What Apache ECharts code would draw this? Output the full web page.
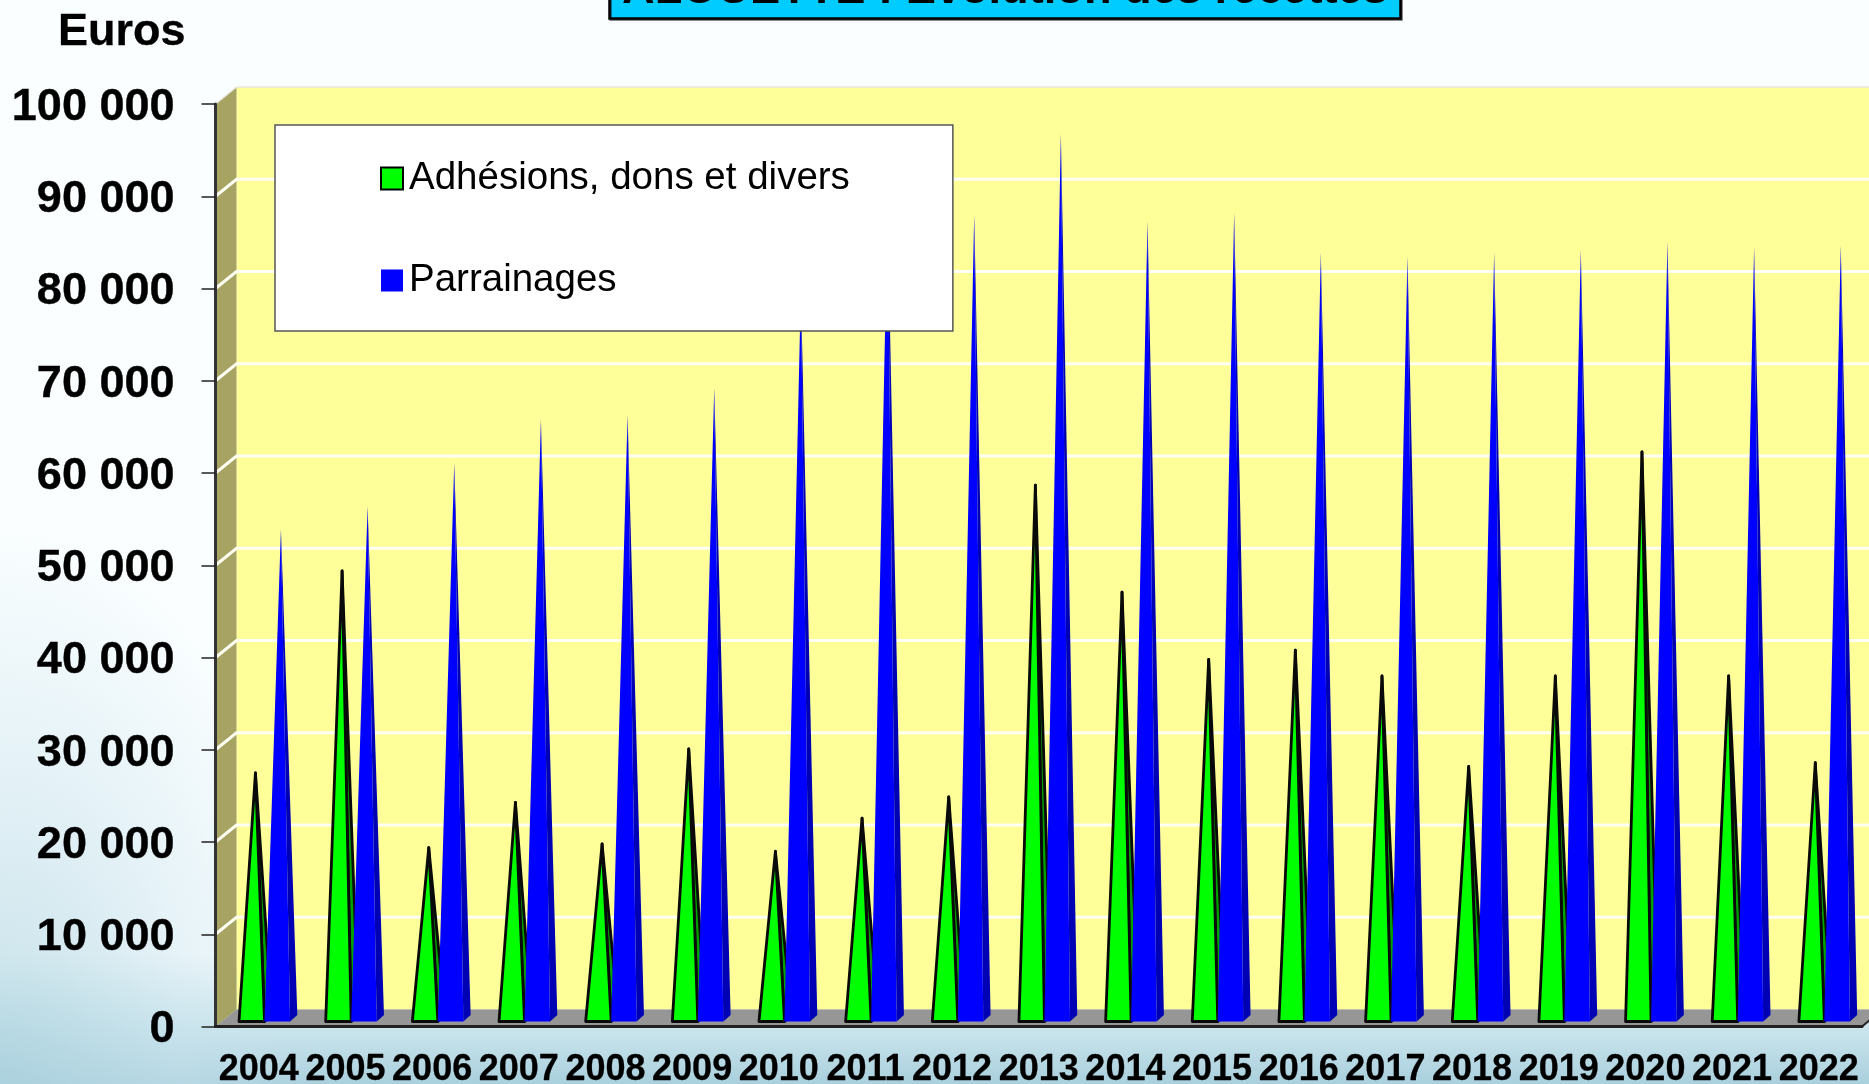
<!DOCTYPE html>
<html lang="fr">
<head>
    <meta charset="UTF-8">
    <title>ALOUETTE : Evolution des recettes</title>
    <style>
        html, body { margin: 0; height: 100%; overflow: hidden; }
        body {
            background:
                radial-gradient(ellipse 330px 560px at 0 100%, rgba(172, 210, 222, 0.7) 0, rgba(200, 226, 236, 0.45) 55%, rgba(250, 254, 255, 0) 100%),
                linear-gradient(to top, #a9d0dd 0, rgba(190, 222, 232, 0.75) 60px, rgba(250, 254, 255, 0) 130px),
                #fafeff;
        }
        #chart { width: 1869px; height: 1084px; }
    </style>
</head>
<body>
<div id="chart"></div>

<script src="https://cdn.jsdelivr.net/npm/echarts@6/dist/echarts.min.js"></script>
<script>
    const years = ['2004', '2005', '2006', '2007', '2008', '2009', '2010', '2011', '2012', '2013',
        '2014', '2015', '2016', '2017', '2018', '2019', '2020', '2021', '2022'];
    const adhesions = [26600, 48500, 18500, 23400, 18900, 29200, 18100, 21700, 24000, 57800,
        46200, 38900, 39900, 37100, 27300, 37100, 61400, 37100, 27700];
    const parrainages = [53000, 55500, 60200, 64900, 65400, 68300, 79000, 88000, 87100, 95900,
        86400, 87300, 83000, 82600, 83000, 83300, 84200, 83600, 83800];
    const yTicks = [0, 10000, 20000, 30000, 40000, 50000, 60000, 70000, 80000, 90000, 100000];

    // depth of the fake 3D box, and of each pyramid
    const wallDx = 21, wallDy = -17;
    const barRatio = 25.5 / 86.66;
    const barDx = 7.3, barDy = -6.5, barShiftX = 5.7, barShiftY = -5;

    function poly(points, style) {
        return { type: 'polygon', shape: { points: points }, style: style };
    }

    function renderWall(params, api) {
        const v = api.value(0);
        const c = api.coord([0, v]);
        const band = api.size([1, 0])[0];
        const left = c[0] - band / 2;
        const right = params.coordSys.x + params.coordSys.width;
        const children = [];
        if (v === 0) {
            const top = api.coord([0, 100000])[1];
            children.push(poly([[left + wallDx, top + wallDy], [right + wallDx + 40, top + wallDy],
                [right + wallDx + 40, c[1] + wallDy], [left + wallDx, c[1] + wallDy]], { fill: '#ffff99' }));
            children.push(poly([[left, top], [left + wallDx, top + wallDy],
                [left + wallDx, c[1] + wallDy], [left, c[1]]], { fill: '#a6a363' }));
            children.push(poly([[left, c[1]], [right, c[1]], [right + wallDx, c[1] + wallDy],
                [left + wallDx, c[1] + wallDy]], { fill: '#969696' }));
            children.push({ type: 'line', shape: { x1: right, y1: c[1], x2: right + wallDx, y2: c[1] + wallDy },
                style: { stroke: '#222', lineWidth: 2 } });
        } else {
            children.push({ type: 'polyline', shape: { points: [[left, c[1]], [left + wallDx, c[1] + wallDy],
                [right + wallDx + 40, c[1] + wallDy]] }, style: { stroke: v === 100000 ? '#e8e8e0' : '#fffff4', lineWidth: v === 100000 ? 1.5 : 3, fill: null } });
        }
        return { type: 'group', children: children };
    }

    function pyramid(side, front, outline) {
        return function (params, api) {
            const top = api.coord([api.value(0), api.value(1)]);
            const base = api.coord([api.value(0), 0]);
            const w = api.size([1, 0])[0] * barRatio;
            const x0 = base[0] + barShiftX + (side === 'left' ? -w : 0);
            const y0 = base[1] + barShiftY;
            const apex = [x0 + w / 2 + barDx / 2, top[1] + barShiftY + barDy / 2];
            const a = [x0, y0], b = [x0 + w, y0], c = [x0 + w + barDx, y0 + barDy];
            const st = outline ? { stroke: outline, lineWidth: 2.8, lineJoin: 'round' } : {};
            return {
                type: 'group',
                children: [
                    poly([b, c, apex], Object.assign({ fill: front[1] }, st)),
                    poly([a, b, apex], Object.assign({ fill: front[0] }, st))
                ]
            };
        };
    }

    const chart = echarts.init(document.getElementById('chart'));
    const fontFamily = '"Liberation Sans", Arial, sans-serif';

    chart.setOption({
        animation: false,
        backgroundColor: 'transparent',
        textStyle: { fontFamily: fontFamily },
        title: {
            text: 'ALOUETTE : Evolution des recettes',
            left: 609,
            top: -41,
            padding: [9, 13, 6, 13],
            backgroundColor: '#00ccff',
            borderColor: '#000',
            borderWidth: 2.5,
            shadowColor: 'rgba(0,0,0,0.6)',
            shadowOffsetY: 1,
            shadowOffsetX: 1,
            textStyle: { fontFamily: fontFamily, fontSize: 45.2, fontWeight: 'bold', color: '#000' }
        },
        grid: { left: 215.5, right: 7, top: 104, bottom: 57.5, outerBoundsMode: 'none' },
        legend: {
            left: 275,
            top: 125,
            orient: 'vertical',
            selectedMode: false,
            backgroundColor: '#fff',
            borderColor: '#555',
            borderWidth: 1.5,
            padding: [34, 103, 31, 105],
            itemWidth: 22,
            itemHeight: 22,
            itemGap: 63,
            textStyle: { fontFamily: fontFamily, fontSize: 38.5, color: '#000', padding: [0, 0, 0, 1] },
            data: [
                { name: 'Adhésions, dons et divers', icon: 'rect', itemStyle: { color: '#00ff00', borderColor: '#000', borderWidth: 2 } },
                { name: 'Parrainages', icon: 'rect', itemStyle: { color: '#0000ff', borderWidth: 0 } }
            ]
        },
        xAxis: {
            type: 'category',
            data: years,
            axisLine: { lineStyle: { color: '#222', width: 3 } },
            axisTick: { alignWithLabel: false, length: 9, lineStyle: { color: '#222', width: 1.5 } },
            axisLabel: { color: '#000', fontSize: 36, fontWeight: 'bold', margin: 26, interval: 0, hideOverlap: false,
                fontFamily: fontFamily, textBorderColor: '#000', textBorderWidth: 0.3 }
        },
        yAxis: {
            type: 'value',
            min: 0,
            max: 100000,
            interval: 10000,
            name: 'Euros',
            nameLocation: 'end',
            nameGap: 49,
            nameTextStyle: { color: '#000', fontSize: 45, fontWeight: 'bold', align: 'right', padding: [0, 30, 0, 0],
                fontFamily: fontFamily, textBorderColor: '#000', textBorderWidth: 0.3 },
            axisLine: { show: true, lineStyle: { color: '#333', width: 3 } },
            axisTick: { show: true, length: 14, lineStyle: { color: '#222', width: 1.5 } },
            axisLabel: {
                color: '#000', fontSize: 45, fontWeight: 'bold', margin: 41, fontFamily: fontFamily,
                textBorderColor: '#000', textBorderWidth: 0.4, verticalAlign: 'top', lineHeight: 7,
                formatter: v => String(v).replace(/\B(?=(\d{3})+$)/g, ' ')
            },
            splitLine: { show: false }
        },
        series: [
            {
                name: 'wall',
                type: 'custom',
                renderItem: renderWall,
                clip: false,
                silent: true,
                z: 0,
                encode: { y: 0 },
                data: yTicks.map(v => [v])
            },
            {
                name: 'Adhésions, dons et divers',
                type: 'custom',
                renderItem: pyramid('left', ['#00ff00', '#00a000'], '#0a0a0a'),
                itemStyle: { color: '#00ff00' },
                clip: false,
                z: 2,
                encode: { x: 0, y: 1 },
                data: years.map((y, i) => [y, adhesions[i]])
            },
            {
                name: 'Parrainages',
                type: 'custom',
                renderItem: pyramid('right', ['#0000ff', '#0000b4'], null),
                itemStyle: { color: '#0000ff' },
                clip: false,
                z: 3,
                encode: { x: 0, y: 1 },
                data: years.map((y, i) => [y, parrainages[i]])
            }
        ]
    });
</script>
</body>
</html>
